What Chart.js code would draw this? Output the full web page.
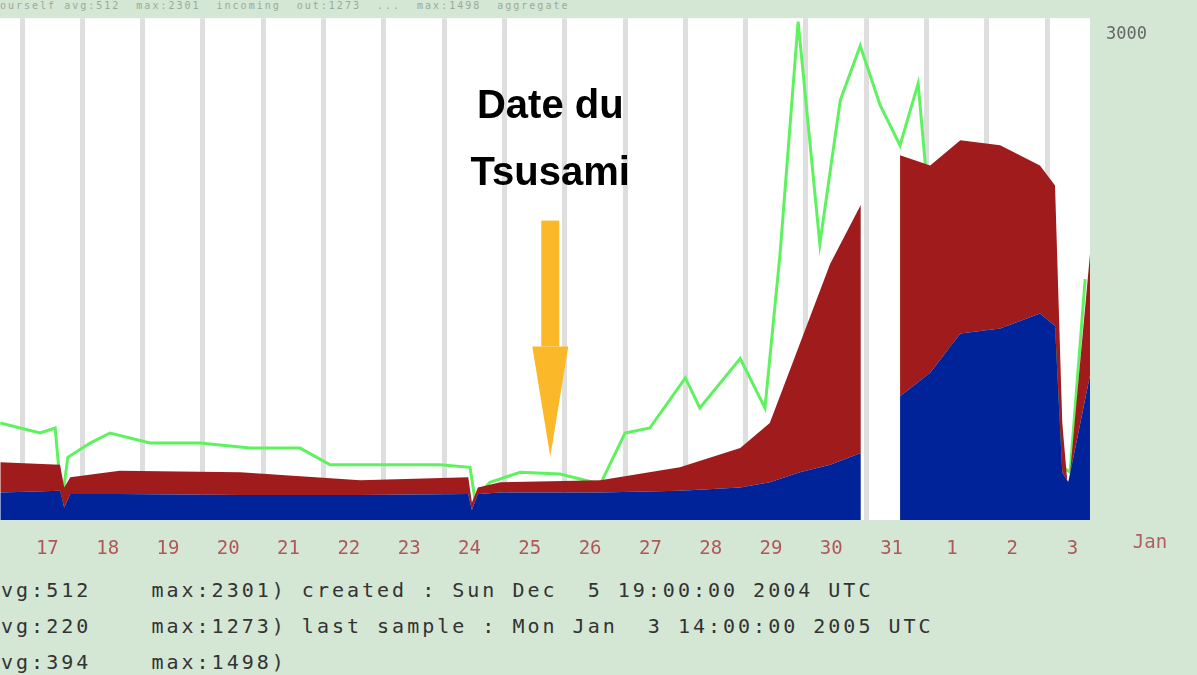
<!DOCTYPE html>
<html>
<head>
<meta charset="utf-8">
<script src="https://cdn.jsdelivr.net/npm/chart.js@4/dist/chart.umd.min.js"></script>
<style>
  body { margin: 0; background: #d4e6d4; width: 1197px; height: 675px; overflow: hidden; font-family: "DejaVu Sans Mono", monospace; }
  #wrap { position: absolute; left: 0; top: 0; width: 1197px; height: 565px; }
  .top { position: absolute; left: 0; top: 0; font-size: 10px; line-height: 11px; color: #9aaa9a; white-space: pre; letter-spacing: 2px; }
  .legend { position: absolute; left: -14px; top: 572px; font-size: 20px; line-height: 36px; color: #333; white-space: pre; letter-spacing: 3px; }
</style>
</head>
<body>
<div class="top">ourself avg:512  max:2301  incoming  out:1273  ...  max:1498  aggregate</div>
<div id="wrap"><canvas id="c" width="1197" height="565"></canvas></div>
<div class="legend">avg:512    max:2301) created : Sun Dec  5 19:00:00 2004 UTC
avg:220    max:1273) last sample : Mon Jan  3 14:00:00 2005 UTC
avg:394    max:1498)</div>
<script>
// x in days (Dec 17 = 17, Jan 1 = 32)
const areaDays = [16.64, 17.63, 17.70, 17.80, 18.62, 20.62, 22.61, 24.40, 24.46, 24.56, 24.93, 26.59, 27.91, 28.91, 29.40, 29.90, 30.40, 30.91, 30.93, 31.56, 32.06, 32.56, 33.22, 33.88, 34.13, 34.25, 34.35, 34.71];
const blueVals = [165, 175, 75, 155, 155, 150, 150, 155, 60, 155, 165, 165, 175, 195, 225, 285, 330, 400, null, 740, 880, 1115, 1145, 1235, 1160, 285, 225, 865];
const totalVals = [345, 330, 195, 255, 295, 285, 237, 255, 105, 195, 225, 237, 315, 430, 580, 1055, 1530, 1885, null, 2180, 2120, 2270, 2240, 2120, 2000, 580, 165, 1590];
const greenDays = [16.64, 16.97, 17.30, 17.55, 17.66, 17.76, 18.13, 18.46, 19.12, 19.95, 20.78, 21.61, 22.11, 22.94, 23.93, 24.43, 24.51, 24.76, 25.26, 25.92, 26.59, 27.0, 27.41, 28.0, 28.24, 28.91, 29.32, 29.57, 29.87, 30.23, 30.57, 30.90, 31.23, 31.56, 31.86, 32.14, 32.39, 32.80, 33.22, 33.38, 33.72, 34.05, 34.26, 34.38, 34.63];
const greenVals = [580, 550, 520, 550, 105, 375, 460, 520, 460, 460, 430, 430, 330, 330, 330, 315, 125, 225, 285, 275, 215, 520, 550, 850, 670, 965, 670, 1590, 2980, 1650, 2510, 2835, 2480, 2240, 2610, 1470, 1000, 2000, 1025, 1290, 1945, 1885, 315, 285, 1440];
const dayTicks = [17, 18, 19, 20, 21, 22, 23, 24, 25, 26, 27, 28, 29, 30, 31, 32, 33, 34];
const dayLabels = ['17', '18', '19', '20', '21', '22', '23', '24', '25', '26', '27', '28', '29', '30', '31', '1', '2', '3'];

const pts = (xs, ys) => xs.map((x, i) => ({ x: x, y: ys[i] }));

const extras = {
  id: 'extras',
  beforeDraw(chart) {
    const { ctx, chartArea: a } = chart;
    ctx.save();
    ctx.fillStyle = '#ffffff';
    ctx.fillRect(a.left, a.top, a.right - a.left, a.bottom - a.top);
    ctx.restore();
  },
  afterDraw(chart) {
    const { ctx, scales } = chart;
    const x = scales.x.getPixelForValue(25.76);
    const y1 = scales.y.getPixelForValue(1790);
    const y2 = scales.y.getPixelForValue(380);
    ctx.save();
    ctx.fillStyle = '#fbb829';
    ctx.fillRect(x - 9, y1, 18, y2 - y1 - 110);
    ctx.beginPath();
    ctx.moveTo(x - 18, y2 - 110);
    ctx.lineTo(x + 18, y2 - 110);
    ctx.lineTo(x, y2);
    ctx.closePath();
    ctx.fill();
    ctx.fillStyle = '#000';
    ctx.font = 'bold 40px "Liberation Sans Narrow", "Liberation Sans", sans-serif';
    ctx.textAlign = 'center';
    ctx.fillText('Date du', x, 118);
    ctx.fillText('Tsusami', x, 185);
    ctx.fillStyle = '#b06060';
    ctx.font = '19px "DejaVu Sans Mono", monospace';
    ctx.fillText('Jan', 1150, 548);
    ctx.restore();
  }
};

new Chart(document.getElementById('c'), {
  type: 'line',
  data: {
    datasets: [
      { data: pts(areaDays, blueVals), borderWidth: 0, pointRadius: 0, backgroundColor: '#00239a', fill: 'origin', spanGaps: false },
      { data: pts(areaDays, totalVals), borderWidth: 0, pointRadius: 0, backgroundColor: '#a01c1c', fill: '-1', spanGaps: false },
      { data: pts(greenDays, greenVals), borderColor: '#5ef25e', borderWidth: 3, pointRadius: 0, fill: false, tension: 0 }
    ]
  },
  options: {
    responsive: false,
    animation: false,
    layout: { padding: { top: 12 } },
    plugins: { legend: { display: false }, tooltip: { enabled: false } },
    scales: {
      x: {
        type: 'linear', min: 16.635, max: 34.71,
        afterBuildTicks: s => { s.ticks = dayTicks.map(v => ({ value: v })); },
        grid: { color: '#dedede', lineWidth: 5, drawTicks: false },
        border: { display: false },
        ticks: { display: false },
        afterFit: s => { s.height = 0; }
      },
      xl: {
        type: 'linear', position: 'bottom', min: 16.635, max: 34.71,
        afterBuildTicks: s => { s.ticks = dayTicks.map(v => ({ value: v + 0.42 })); },
        grid: { display: false },
        border: { display: false },
        ticks: {
          color: '#b05858', font: { family: 'DejaVu Sans Mono', size: 19 }, maxRotation: 0, autoSkip: false, padding: 10,
          callback: v => dayLabels[dayTicks.indexOf(Math.round(v - 0.42))]
        },
        afterFit: s => { s.height = 45; }
      },
      y: {
        position: 'right', min: 0, max: 3000,
        afterBuildTicks: s => { s.ticks = [{ value: 2900 }]; },
        grid: { display: false },
        border: { display: false },
        ticks: { color: '#666', font: { family: 'DejaVu Sans Mono', size: 17 }, callback: () => '3000', padding: 8 },
        afterFit: s => { s.width = 107; }
      }
    }
  },
  plugins: [extras]
});
</script>
</body>
</html>
